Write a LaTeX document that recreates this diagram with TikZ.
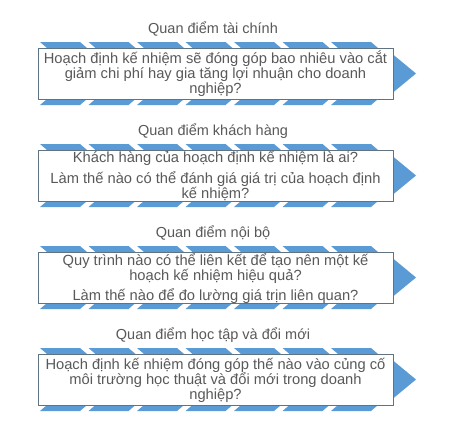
\documentclass[tikz,border=0pt]{standalone}
\usepackage{fontspec}
\setmainfont{Liberation Sans}
\definecolor{bandblue}{HTML}{5B9BD5}
\definecolor{txtgray}{HTML}{595959}
\definecolor{boxline}{HTML}{5F7383}
\tikzset{
  seg/.style={fill=bandblue, draw=none},
  qbox/.style={draw=boxline, line width=0.9pt, fill=white, minimum width=355pt, minimum height=51pt, inner sep=0pt, outer sep=0pt},
  ttl/.style={anchor=base, text=txtgray, font=\fontsize{14.5}{15}\selectfont, inner sep=0pt},
  bodytxt/.style={anchor=base, text=txtgray, align=center, font=\fontsize{14.7}{15}\selectfont, inner sep=0pt},
}
\begin{document}
\begin{tikzpicture}[x=1pt,y=-1pt]
\useasboundingbox (0,0) rectangle (449,437);
\fill[white] (0,0) rectangle (449,437);
\foreach \T in {42,144,246,348}{
  \foreach \i in {0,...,6}{
    \pgfmathsetmacro\a{40+48.5*\i}
    \pgfmathsetmacro\b{\a+40}
    \fill[seg] (\a,\T) -- (\b,\T) -- ({\b+36.9},{\T+31.5}) -- (\b,{\T+63}) -- (\a,{\T+63}) -- ({\a+36.9},{\T+31.5}) -- cycle;
  }
  \fill[seg] (389,{\T+31.5-22.3}) -- (416,{\T+31.5}) -- (389,{\T+31.5+22.3}) -- cycle;
}
% block 1
\node[ttl] (h1) at (213,33.5) {Quan điểm tài chính};
\node[qbox] (b1) at (215.5,73.5) {};
\node[bodytxt] (t1) at (215.5,93.3) {Hoạch định kế nhiệm sẽ đóng góp bao nhiêu vào cắt\\giảm chi phí hay gia tăng lợi nhuận cho doanh\\nghiệp?};
% block 2
\node[ttl] (h2) at (213,135.5) {Quan điểm khách hàng};
\node[qbox] (b2) at (215.5,175.5) {};
\node[bodytxt] (t2a) at (215.5,162.5) {Khách hàng của hoạch định kế nhiệm là ai?};
\node[bodytxt] (t2b) at (215.5,198.5) {Làm thế nào có thể đánh giá giá trị của hoạch định\\kế nhiệm?};
% block 3
\node[ttl] (h3) at (213,237.5) {Quan điểm nội bộ};
\node[qbox] (b3) at (215.5,277.5) {};
\node[bodytxt] (t3a) at (215.5,280) {Quy trình nào có thể liên kết để tạo nên một kế\\hoạch kế nhiệm hiệu quả?};
\node[bodytxt] (t3b) at (215.5,300.5) {Làm thế nào để đo lường giá trịn liên quan?};
% block 4
\node[ttl] (h4) at (213,339.5) {Quan điểm học tập và đổi mới};
\node[qbox] (b4) at (215.5,379.5) {};
\node[bodytxt] (t4) at (215.5,399.3) {Hoạch định kế nhiệm đóng góp thế nào vào củng cố\\môi trường học thuật và đổi mới trong doanh\\nghiệp?};
\end{tikzpicture}
\end{document}
